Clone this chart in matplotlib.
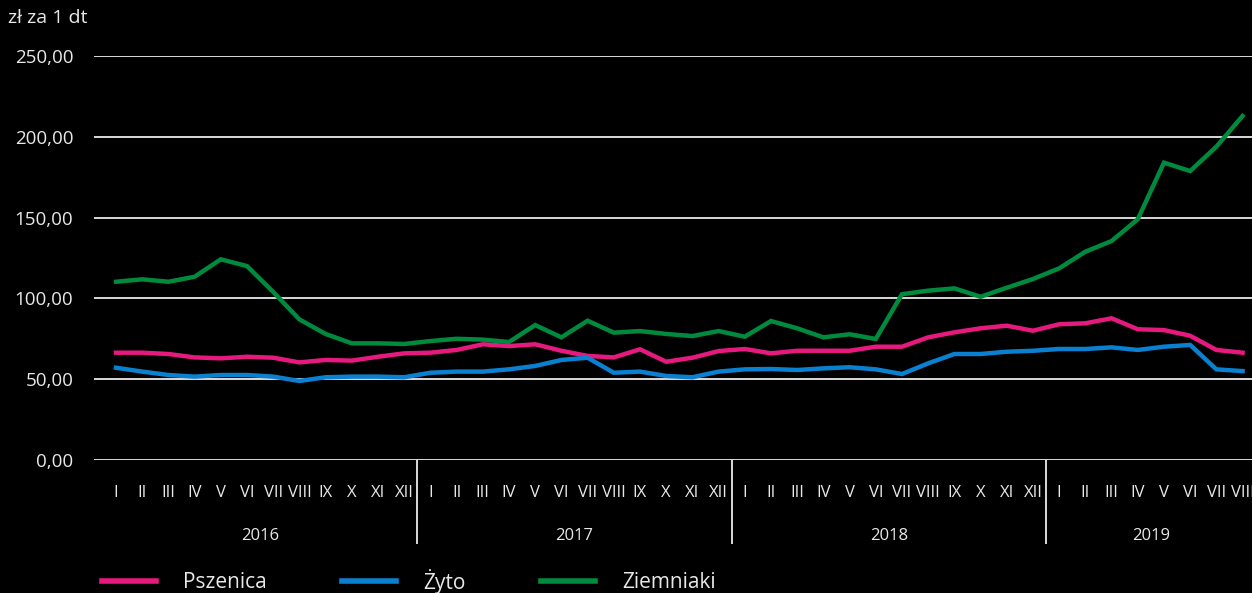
# Ceny skupu: pszenica, żyto, ziemniaki 2016-2019

import numpy as np
import matplotlib
matplotlib.use("Agg")
import matplotlib.pyplot as plt

## Dane (zł za 1 dt)

miesiace = ['I', 'II', 'III', 'IV', 'V', 'VI', 'VII', 'VIII', 'IX', 'X', 'XI', 'XII']
lata = ['2016', '2017', '2018', '2019']
miesiace_w_roku = [12, 12, 12, 8]

pszenica = [66.4, 66.4, 65.6, 63.5, 62.9, 63.9, 63.3, 60.4, 61.9, 61.5, 63.9, 66.0,
            66.4, 68.1, 71.6, 70.5, 71.6, 67.6, 64.4, 63.5, 68.5, 60.8, 63.3, 67.4,
            68.7, 66.0, 67.6, 67.6, 67.6, 70.1, 70.1, 75.9, 79.0, 81.5, 83.1, 80.0,
            84.0, 84.6, 87.7, 80.9, 80.4, 76.9, 68.1, 66.4]

zyto = [57.1, 54.7, 52.6, 51.6, 52.6, 52.6, 51.6, 48.9, 51.2, 51.6, 51.6, 51.2,
        54.0, 54.7, 54.7, 56.1, 58.2, 61.9, 63.3, 54.0, 54.7, 52.0, 51.2, 54.7,
        56.1, 56.3, 55.7, 56.7, 57.4, 56.1, 53.2, 59.8, 65.6, 65.6, 67.0, 67.6,
        68.7, 68.7, 69.7, 68.1, 70.1, 71.2, 56.1, 55.0]

ziemniaki = [110.3, 111.8, 110.3, 113.4, 124.2, 120.0, 104.0, 87.0, 78.0, 72.2, 72.2, 71.8,
             73.6, 75.0, 74.5, 73.0, 83.5, 75.9, 86.2, 78.8, 79.8, 78.0, 76.7, 79.8,
             76.3, 86.0, 81.5, 75.9, 77.8, 74.9, 102.6, 104.8, 106.2, 101.0, 106.6, 112.0,
             118.6, 128.9, 135.5, 149.0, 184.0, 178.8, 193.9, 212.9]

serie = [('Pszenica', pszenica, '#e5197e'),
         ('Żyto', zyto, '#0a80d0'),
         ('Ziemniaki', ziemniaki, '#008a3e')]

plt.rcParams['font.family'] = ['Open Sans', 'DejaVu Sans']

etykiety = []
for n in miesiace_w_roku:
    etykiety += miesiace[:n]
x = np.arange(len(etykiety))

fig = plt.figure(figsize=(12.52, 5.93), dpi=100, facecolor='black')
ax = fig.add_axes([94 / 1252, 1 - 460 / 593, 1 - 94 / 1252, (460 - 56) / 593])
ax.set_facecolor('black')

for nombre, valores, color in serie:
    ax.plot(x, valores, color=color, linewidth=3.2, label=nombre,
            solid_joinstyle='miter', zorder=3)

ax.set_ylim(0, 250)
ax.set_xlim(-0.84, 43.36)
ax.set_yticks(np.arange(0, 251, 50))
ax.set_yticklabels(['%d,00' % v for v in np.arange(0, 251, 50)])
ax.grid(axis='y', color='#d9d9d9', linewidth=1.4, zorder=1)
ax.tick_params(axis='y', length=0, pad=15, labelsize=13.5, colors='#e8e8e8')

ax.set_xticks(x)
ax.set_xticklabels(etykiety)
ax.tick_params(axis='x', length=0, pad=18, labelsize=12, colors='#e8e8e8')

for s in ax.spines.values():
    s.set_visible(False)

## Separadores y etiquetas de años
trans = ax.get_xaxis_transform()
inicio = 0
for i, (ano, n) in enumerate(zip(lata, miesiace_w_roku)):
    centro = inicio + (n - 1) / 2.
    ax.text(centro, -0.187, ano, transform=trans, ha='center', va='center',
            color='#e8e8e8', fontsize=12)
    if i < len(lata) - 1:
        ax.plot([inicio + n - 0.5] * 2, [0, -0.205], transform=trans,
                color='#d9d9d9', linewidth=1.4, clip_on=False)
    inicio += n

fig.text(8 / 1252, 1 - 18 / 593, 'zł za 1 dt', ha='left', va='center',
         color='#e8e8e8', fontsize=14)

leg = fig.legend(loc='center left', bbox_to_anchor=(102 / 1252, 1 - 581 / 593),
                 ncol=3, frameon=False, fontsize=15, handlelength=2.6,
                 handletextpad=1.3, columnspacing=3.6, labelcolor='#e8e8e8',
                 borderaxespad=0, borderpad=0)
for h in leg.get_lines():
    h.set_linewidth(4)

fig.savefig('out.png', dpi=100, facecolor='black')
